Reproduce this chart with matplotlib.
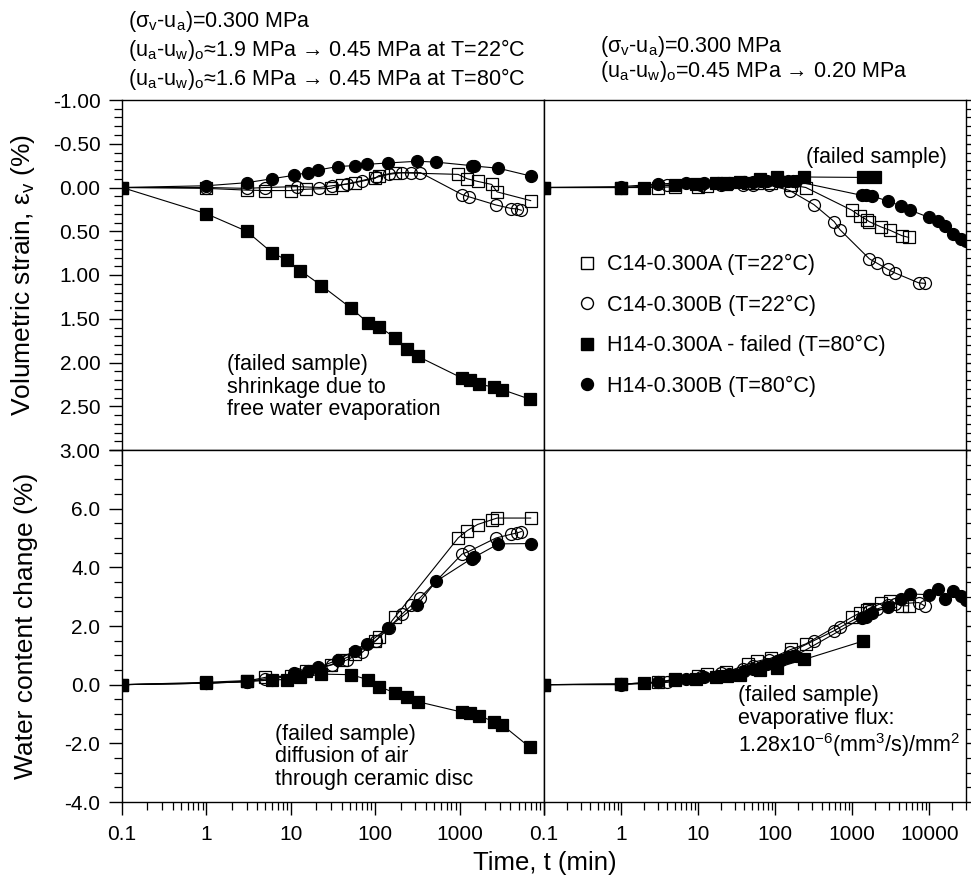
import matplotlib
matplotlib.use('Agg')
import matplotlib.pyplot as plt
from matplotlib.ticker import MultipleLocator, FixedLocator, LogLocator, FuncFormatter, NullFormatter, FixedFormatter
from matplotlib.lines import Line2D

plt.rcParams['font.family'] = ['Liberation Sans', 'DejaVu Sans']
plt.rcParams['mathtext.fontset'] = 'custom'
plt.rcParams['mathtext.rm'] = 'Liberation Sans'
plt.rcParams['mathtext.it'] = 'Liberation Sans'
plt.rcParams['mathtext.default'] = 'regular'
plt.rcParams['axes.unicode_minus'] = False

# ---------------- data: left panels (drying stage, 0.45 MPa) ----------------
c14a_t_left = [0.1, 1, 3, 5, 10, 15, 30, 40, 58, 100, 110, 173, 960, 1230, 1630, 2400, 2780, 6950]
c14a_ev_left = [0, 0.01, 0.03, 0.035, 0.035, 0.02, 0.01, -0.03, -0.055, -0.105, -0.135, -0.17,
                -0.15, -0.10, -0.07, -0.035, 0.05, 0.15]
c14a_wc_left = [0, 0.05, 0.12, 0.25, 0.31, 0.48, 0.68, 0.85, 1.05, 1.50, 1.61, 2.32,
                5.0, 5.25, 5.46, 5.62, 5.68, 5.68]

c14b_t_left = [0.1, 1, 3, 5, 11.8, 21.8, 31, 46, 70, 102, 144, 208, 268, 343, 1066, 1280, 2700, 4100, 4790, 5380]
c14b_ev_left = [0, 0.0, 0.01, 0.0, -0.01, 0.0, -0.02, -0.04, -0.08, -0.115, -0.15, -0.17, -0.17, -0.17,
                0.08, 0.105, 0.20, 0.24, 0.245, 0.26]
c14b_wc_left = [0, 0.05, 0.10, 0.20, 0.36, 0.55, 0.68, 0.84, 1.10, 1.50, 1.92, 2.41, 2.70, 2.97,
                4.45, 4.54, 5.0, 5.13, 5.17, 5.22]

h14a_t_left = [0.1, 1, 3, 6, 9, 13, 23, 52, 82, 112, 172, 237, 320, 1080, 1335, 1710, 2550, 3200, 6830]
h14a_ev_left = [0, 0.30, 0.50, 0.745, 0.83, 0.95, 1.12, 1.38, 1.545, 1.59, 1.72, 1.84, 1.93,
                2.18, 2.20, 2.25, 2.28, 2.31, 2.42]
h14a_wc_left = [0, 0.08, 0.14, 0.17, 0.17, 0.25, 0.36, 0.34, 0.17, -0.07, -0.28, -0.43, -0.58,
                -0.94, -0.97, -1.06, -1.26, -1.37, -2.14]

h14b_t_left = [0.1, 1, 3, 6, 11, 15.8, 21, 36, 57, 80, 140, 316, 525, 1390, 1500, 2890, 7050]
h14b_ev_left = [0, -0.02, -0.055, -0.10, -0.14, -0.17, -0.20, -0.24, -0.25, -0.265, -0.28, -0.30,
                -0.29, -0.25, -0.245, -0.22, -0.13]
h14b_wc_left = [0, 0.05, 0.10, 0.16, 0.39, 0.45, 0.59, 0.84, 1.16, 1.39, 1.93, 2.73, 3.52,
                4.30, 4.35, 4.80, 4.81]

# ---------------- data: right panels (drying stage, 0.20 MPa) ----------------
c14a_t_right = [0.1, 1, 3, 5, 10, 13, 23, 44, 59, 88, 160, 250, 990, 1245, 1550, 1660, 2360, 3120, 4400, 5400]
c14a_ev_right = [0, 0, 0, -0.01, -0.01, -0.02, -0.04, -0.05, -0.055, -0.05, -0.03, 0.0,
                 0.26, 0.32, 0.37, 0.39, 0.45, 0.49, 0.55, 0.57]
c14a_wc_right = [0, 0.02, 0.08, 0.19, 0.30, 0.36, 0.42, 0.70, 0.80, 0.90, 1.20, 1.39,
                 2.30, 2.44, 2.54, 2.58, 2.77, 2.84, 2.69, 2.69]

c14b_t_right = [0.1, 1, 4, 11, 20, 38, 51, 82, 155, 318, 584, 690, 1670, 2100, 2900, 3560, 7300, 8700]
c14b_ev_right = [0, 0, -0.03, -0.03, -0.03, -0.03, -0.03, -0.03, 0.035, 0.195, 0.39, 0.48,
                 0.815, 0.865, 0.935, 0.975, 1.09, 1.095]
c14b_wc_right = [0, 0.0, 0.08, 0.25, 0.40, 0.53, 0.65, 0.84, 1.10, 1.50, 1.84, 1.95,
                 2.50, 2.58, 2.70, 2.75, 2.80, 2.69]

h14a_t_right_ev = [0.1, 1, 2, 5, 9.5, 17, 24, 35, 63, 107, 238, 1400, 1990]
h14a_ev_right = [0, 0, 0, -0.03, -0.04, -0.05, -0.055, -0.06, -0.10, -0.12, -0.12, -0.115, -0.115]
h14a_t_right_wc = [0.1, 1, 2, 5, 9.5, 17, 24, 35, 63, 107, 238, 1400]
h14a_wc_right = [0, 0.02, 0.06, 0.15, 0.20, 0.26, 0.30, 0.34, 0.50, 0.58, 0.86, 1.49]

h14b_t_right = [0.1, 1, 3, 7, 12, 18, 25, 40, 51, 65, 78, 107, 119, 145, 168, 185,
                1340, 1500, 1800, 2880, 4300, 5700, 9800, 13000, 16000, 20500, 25500, 30000]
h14b_ev_right = [0, -0.01, -0.04, -0.055, -0.05, -0.05, -0.05, -0.06, -0.06, -0.07, -0.08, -0.08,
                 -0.08, -0.07, -0.07, -0.07, 0.09, 0.09, 0.095, 0.155, 0.21, 0.26, 0.34, 0.38,
                 0.435, 0.53, 0.59, 0.61]
h14b_wc_right = [0, 0.02, 0.08, 0.20, 0.25, 0.31, 0.36, 0.48, 0.55, 0.61, 0.70, 0.80, 0.85, 0.93,
                 0.97, 0.99, 2.27, 2.32, 2.43, 2.66, 2.92, 3.09, 3.07, 3.26, 2.92, 3.20, 3.03, 2.88]

series_labels = ['C14-0.300A (T=22°C)', 'C14-0.300B (T=22°C)',
                 'H14-0.300A - failed (T=80°C)', 'H14-0.300B (T=80°C)']

left_xticks = [0.1, 1, 10, 100, 1000, 10000]
left_xticklabels = ['0.1', '1', '10', '100', '1000', '']
right_xticks = [0.1, 1, 10, 100, 1000, 10000]
right_xticklabels = ['0.1', '1', '10', '100', '1000', '10000']

# ---------------- figure ----------------
W, H = 971, 876
fig = plt.figure(figsize=(W / 100, H / 100), dpi=100)


def rect(x0, y0, x1, y1):
    return [x0 / W, 1 - y1 / H, (x1 - x0) / W, (y1 - y0) / H]


def fx(px):
    return px / W


def fy(py):
    return 1 - py / H


ax_tl = fig.add_axes(rect(122, 100, 544, 450))
ax_tr = fig.add_axes(rect(544, 100, 966, 450))
ax_bl = fig.add_axes(rect(122, 450, 544, 802))
ax_br = fig.add_axes(rect(544, 450, 966, 802))

STY = {
    'c14a': dict(marker='s', ms=8.0, mfc='none', mec='black'),
    'c14b': dict(marker='o', ms=8.6, mfc='none', mec='black'),
    'h14a': dict(marker='s', ms=8.0, mfc='black', mec='black'),
    'h14b': dict(marker='o', ms=8.6, mfc='black', mec='black'),
}


def draw(ax, t, v, key):
    ax.plot(t, v, color='black', lw=0.8, mew=0.9, **STY[key])


draw(ax_tl, c14a_t_left, c14a_ev_left, 'c14a')
draw(ax_tl, c14b_t_left, c14b_ev_left, 'c14b')
draw(ax_tl, h14b_t_left, h14b_ev_left, 'h14b')
draw(ax_tl, h14a_t_left, h14a_ev_left, 'h14a')

draw(ax_bl, c14a_t_left, c14a_wc_left, 'c14a')
draw(ax_bl, c14b_t_left, c14b_wc_left, 'c14b')
draw(ax_bl, h14b_t_left, h14b_wc_left, 'h14b')
draw(ax_bl, h14a_t_left, h14a_wc_left, 'h14a')

draw(ax_tr, c14a_t_right, c14a_ev_right, 'c14a')
draw(ax_tr, c14b_t_right, c14b_ev_right, 'c14b')
draw(ax_tr, h14b_t_right, h14b_ev_right, 'h14b')
draw(ax_tr, h14a_t_right_ev, h14a_ev_right, 'h14a')

draw(ax_br, c14a_t_right, c14a_wc_right, 'c14a')
draw(ax_br, c14b_t_right, c14b_wc_right, 'c14b')
draw(ax_br, h14b_t_right, h14b_wc_right, 'h14b')
draw(ax_br, h14a_t_right_wc, h14a_wc_right, 'h14a')

TICK_FS = 15
for ax in (ax_tl, ax_tr, ax_bl, ax_br):
    ax.set_xscale('log')
    for sp in ax.spines.values():
        sp.set_linewidth(1.0)
    ax.tick_params(which='major', direction='out', length=9.5, width=1.0, labelsize=TICK_FS)
    ax.tick_params(which='minor', direction='out', length=5.5, width=0.9)
    ax.xaxis.set_minor_locator(LogLocator(base=10, subs=range(2, 10), numticks=20))
    ax.xaxis.set_minor_formatter(NullFormatter())

for ax in (ax_tl, ax_bl):
    ax.set_xlim(0.1, 10000)
    ax.xaxis.set_major_locator(FixedLocator(left_xticks))
    ax.xaxis.set_major_formatter(FixedFormatter(left_xticklabels))
    ax.yaxis.set_ticks_position('left')
for ax in (ax_tr, ax_br):
    ax.set_xlim(0.1, 30000)
    ax.xaxis.set_major_locator(FixedLocator(right_xticks))
    ax.xaxis.set_major_formatter(FixedFormatter(right_xticklabels))
    ax.yaxis.set_ticks_position('right')
    ax.tick_params(axis='y', which='both', labelright=False, labelleft=False)

for ax in (ax_tl, ax_tr):
    ax.set_ylim(3, -1)
    ax.yaxis.set_major_locator(MultipleLocator(0.5))
    ax.yaxis.set_minor_locator(MultipleLocator(0.1))
    ax.tick_params(axis='x', which='both', labelbottom=False)
for ax in (ax_bl, ax_br):
    ax.set_ylim(-4, 8)
    ax.yaxis.set_major_locator(MultipleLocator(2))
    ax.yaxis.set_minor_locator(MultipleLocator(0.5))
    ax.tick_params(axis='x', which='major', pad=7)

ax_tl.yaxis.set_major_formatter(FuncFormatter(lambda v, p: '%.2f' % v))
ax_bl.yaxis.set_major_formatter(FuncFormatter(lambda v, p: '' if v > 7 else '%.1f' % v))
ax_tl.tick_params(axis='y', which='major', pad=6)
ax_bl.tick_params(axis='y', which='major', pad=6)

# ---------------- legend ----------------
handles = [Line2D([], [], ls='none', color='black', **STY[k]) for k in ('c14a', 'c14b', 'h14a', 'h14b')]
ax_tr.legend(handles, series_labels, loc='upper left', bbox_to_anchor=(fx(576), fy(254)),
             bbox_transform=fig.transFigure, frameon=False, fontsize=15.5, borderpad=0,
             borderaxespad=0, handlelength=1.0, handletextpad=0.45, labelspacing=0.9,
             numpoints=1)

# ---------------- labels and notes ----------------
TXT_FS = 15.5
fig.text(fx(23), fy(275), 'Volumetric strain, ε$_v$ (%)', rotation=90, ha='center', va='center', fontsize=19)
fig.text(fx(26), fy(626), 'Water content change (%)', rotation=90, ha='center', va='center', fontsize=19)
fig.text(fx(545), fy(863), 'Time, t (min)', ha='center', va='center', fontsize=18.5)

fig.text(fx(128), fy(27), '(σ$_v$-u$_a$)=0.300 MPa', ha='left', va='baseline', fontsize=TXT_FS)
fig.text(fx(128), fy(56), '(u$_a$-u$_w$)$_o$≈1.9 MPa → 0.45 MPa at T=22°C', ha='left', va='baseline', fontsize=TXT_FS)
fig.text(fx(128), fy(85), '(u$_a$-u$_w$)$_o$≈1.6 MPa → 0.45 MPa at T=80°C', ha='left', va='baseline', fontsize=TXT_FS)
fig.text(fx(600), fy(52), '(σ$_v$-u$_a$)=0.300 MPa', ha='left', va='baseline', fontsize=TXT_FS)
fig.text(fx(600), fy(77), '(u$_a$-u$_w$)$_o$=0.45 MPa → 0.20 MPa', ha='left', va='baseline', fontsize=TXT_FS)

fig.text(fx(227), fy(387), '(failed sample)\nshrinkage due to\nfree water evaporation',
         ha='left', va='center', fontsize=TXT_FS, linespacing=1.08)
fig.text(fx(876), fy(157), '(failed sample)', ha='center', va='center', fontsize=TXT_FS)
fig.text(fx(275), fy(757), '(failed sample)\ndiffusion of air\nthrough ceramic disc',
         ha='left', va='center', fontsize=TXT_FS, linespacing=1.1)
fig.text(fx(738), fy(722), '(failed sample)\nevaporative flux:\n1.28x10$^{-6}$(mm$^3$/s)/mm$^2$',
         ha='left', va='center', fontsize=TXT_FS, linespacing=1.1)

fig.savefig('out.png', dpi=100)
